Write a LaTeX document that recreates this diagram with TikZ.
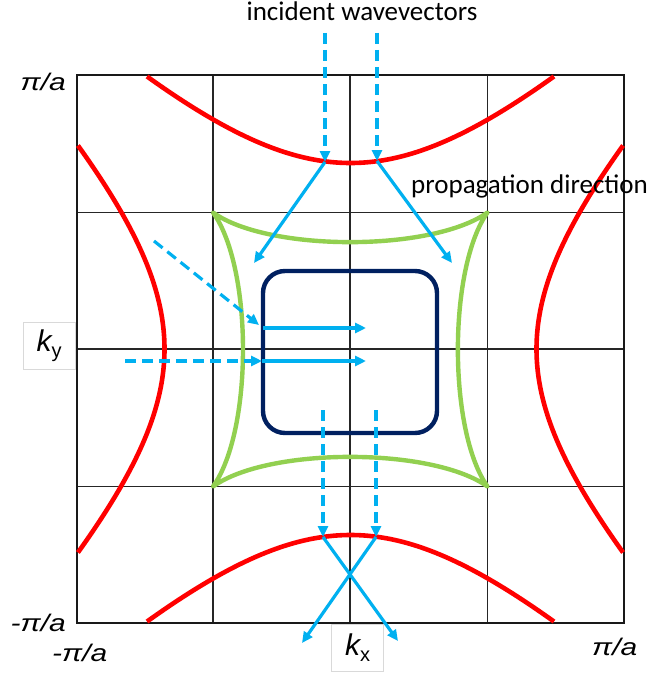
\documentclass[tikz,border=0pt]{standalone}
\usepackage{fontspec}
\setmainfont{Carlito}
\newfontfamily\arialfont{Liberation Sans}
\usetikzlibrary{arrows.meta}
\definecolor{redc}{HTML}{FF0000}
\definecolor{greenc}{HTML}{92D050}
\definecolor{navyc}{HTML}{002060}
\definecolor{bluec}{HTML}{00B0F0}
\newcommand\klab[1]{{\itshape k}\raisebox{-0.2em}{\fontsize{20}{21}\selectfont #1}}
\newcommand\pilab[1]{\scalebox{1.25}[1]{#1π/a}}
\begin{document}
\begin{tikzpicture}[x=1pt,y=-1pt,
  gridline/.style={draw=black!85, line width=1.1pt},
  frame/.style={draw=black!90, line width=2.6pt},
  redcurve/.style={draw=redc, line width=4.6pt},
  greencurve/.style={draw=greenc, line width=4.4pt, line join=round},
  navybox/.style={draw=navyc, line width=4.4pt, rounded corners=22pt},
  bluedash/.style={draw=bluec, line width=3.2pt, dash pattern=on 11pt off 6pt, -{Triangle[length=11pt,width=10pt]}},
  bluesolid/.style={draw=bluec, line width=3.2pt, -{Triangle[length=11pt,width=10pt]}},
  cal/.style={font=\fontsize{27}{30}\selectfont, inner sep=0pt},
  lbl/.style={font=\arialfont\itshape\fontsize{24}{26}\selectfont, inner sep=0pt},
  kbox/.style={draw=black!15, line width=0.8pt, fill=white, minimum width=52pt, minimum height=47pt, inner sep=0pt,
    font=\arialfont\fontsize{30}{31}\selectfont}
]
\useasboundingbox (0,0) rectangle (655,677);
\fill[white] (0,0) rectangle (655,677);
% grid
\draw[gridline] (213,75) -- (213,623);
\draw[gridline] (350,75) -- (350,623);
\draw[gridline] (487.5,75) -- (487.5,623);
\draw[gridline] (77,212.5) -- (624,212.5);
\draw[gridline] (77,349) -- (624,349);
\draw[gridline] (77,486.5) -- (624,486.5);
\draw[frame] (77,75) rectangle (624,623);
% red hyperbolas
\draw[redcurve] plot[domain=-203.5:203.5, samples=80, smooth] ({350.5+\x}, {349-186*sqrt(1+(\x/190)^2)});
\draw[redcurve] plot[domain=-203.5:203.5, samples=80, smooth] ({350.5+\x}, {349+186*sqrt(1+(\x/190)^2)});
\draw[redcurve] plot[domain=-203.5:203.5, samples=80, smooth] ({350.5-186*sqrt(1+(\x/190)^2)}, {349+\x});
\draw[redcurve] plot[domain=-203.5:203.5, samples=80, smooth] ({350.5+186*sqrt(1+(\x/190)^2)}, {349+\x});
% green star
\draw[greencurve] (213,212.5)
  .. controls (268,252) and (432,252) .. (487.5,212.5)
  .. controls (448,268) and (448,431) .. (487.5,486.5)
  .. controls (432,447) and (268,447) .. (213,486.5)
  .. controls (253,431) and (253,268) .. cycle;
% navy rounded box
\draw[navybox] (263,271) rectangle (437,433);
% arrow points
\coordinate (a1s) at (325,33);  \coordinate (a1m) at (325,162); \coordinate (a1e) at (254,263);
\coordinate (a2s) at (377,33);  \coordinate (a2m) at (377,161); \coordinate (a2e) at (452,263);
\coordinate (a3s) at (154,241); \coordinate (a3m) at (259,325); \coordinate (a3b) at (263,328); \coordinate (a3e) at (366,328);
\coordinate (a4s) at (125,361); \coordinate (a4m) at (262,361); \coordinate (a4e) at (366,361);
\coordinate (a5s) at (323,410); \coordinate (a5m) at (323,537); \coordinate (a5e) at (398,641);
\coordinate (a6s) at (376,410); \coordinate (a6m) at (376,537); \coordinate (a6e) at (302,643);
\draw[bluedash] (a1s) -- (a1m);
\draw[bluesolid] (a1m) -- (a1e);
\draw[bluedash] (a2s) -- (a2m);
\draw[bluesolid] (a2m) -- (a2e);
\draw[bluedash] (a3s) -- (a3m);
\draw[bluesolid] (a3b) -- (a3e);
\draw[bluedash] (a4s) -- (a4m);
\draw[bluesolid] (a4m) -- (a4e);
\draw[bluedash] (a5s) -- (a5m);
\draw[bluesolid] (a5m) -- (a5e);
\draw[bluedash] (a6s) -- (a6m);
\draw[bluesolid] (a6m) -- (a6e);
% texts
\node[cal, anchor=base] (inc) at (362,21) {incident wavevectors};
\node[cal, anchor=base west] (prop) at (411,193) {propagation direction};
\node[lbl, anchor=base east] (pitl) at (66,90) {\pilab{}};
\node[lbl, anchor=base east] (mpil) at (66,631) {\pilab{-}};
\node[lbl, anchor=base west] (mpib) at (52,661) {\pilab{-}};
\node[lbl, anchor=base west] (pibr) at (592,655) {\pilab{}};
\node[kbox] (ky) at (49,346) {\klab{y}};
\node[kbox] (kx) at (357.5,647.5) {\klab{x}};
\end{tikzpicture}
\end{document}
